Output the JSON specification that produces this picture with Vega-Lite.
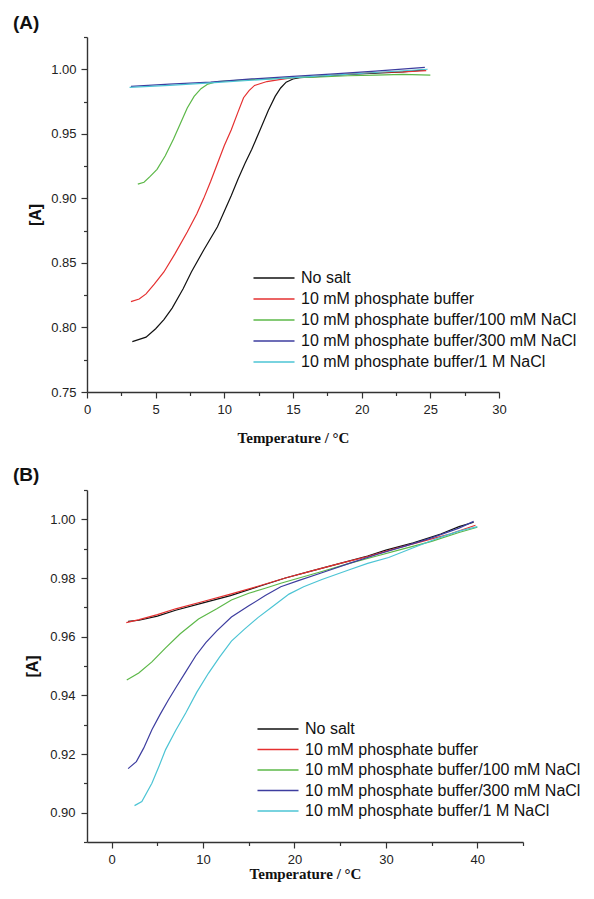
{
  "$schema": "https://vega.github.io/schema/vega-lite/v6.json",
  "padding": {"left": 13, "top": 14, "right": 5, "bottom": 5},
  "background": "white",
  "spacing": 21,
  "config": {
    "view": {"stroke": null},
    "axis": {
      "domainColor": "#333333", "domainWidth": 1.4, "tickColor": "#333333", "tickWidth": 1.2,
      "labelFont": "Liberation Sans", "labelFontSize": 13, "labelColor": "#222222",
      "grid": false, "labelOverlap": false, "labelFlush": false
    },
    "legend": {
      "orient": "none", "title": null, "padding": 0, "rowPadding": 5,
      "labelFont": "Liberation Sans", "labelFontSize": 16, "labelColor": "#111111", "labelLimit": 500,
      "symbolType": "M-3,0H3", "symbolSize": 187, "symbolStrokeWidth": 1.3, "labelOffset": 19
    }
  },
  "datasets": {
    "A": [
      {"s": "No salt", "t": 3.3, "a": 0.789}, {"s": "No salt", "t": 4.3, "a": 0.7925}, {"s": "No salt", "t": 5.0, "a": 0.799}, {"s": "No salt", "t": 5.6, "a": 0.806}, {"s": "No salt", "t": 6.2, "a": 0.815}, {"s": "No salt", "t": 7.0, "a": 0.830}, {"s": "No salt", "t": 7.6, "a": 0.843}, {"s": "No salt", "t": 8.5, "a": 0.860}, {"s": "No salt", "t": 9.5, "a": 0.878}, {"s": "No salt", "t": 10.0, "a": 0.890}, {"s": "No salt", "t": 10.5, "a": 0.902}, {"s": "No salt", "t": 11.0, "a": 0.915}, {"s": "No salt", "t": 11.5, "a": 0.927}, {"s": "No salt", "t": 12.0, "a": 0.938}, {"s": "No salt", "t": 12.6, "a": 0.953}, {"s": "No salt", "t": 13.2, "a": 0.968}, {"s": "No salt", "t": 13.7, "a": 0.979}, {"s": "No salt", "t": 14.1, "a": 0.9855}, {"s": "No salt", "t": 14.5, "a": 0.990}, {"s": "No salt", "t": 15.0, "a": 0.9925}, {"s": "No salt", "t": 15.5, "a": 0.9935}, {"s": "No salt", "t": 17.0, "a": 0.9945}, {"s": "No salt", "t": 19.0, "a": 0.996}, {"s": "No salt", "t": 21.0, "a": 0.997}, {"s": "No salt", "t": 23.0, "a": 0.998}, {"s": "No salt", "t": 24.6, "a": 0.9995},
      {"s": "10 mM phosphate buffer", "t": 3.2, "a": 0.820}, {"s": "10 mM phosphate buffer", "t": 3.8, "a": 0.822}, {"s": "10 mM phosphate buffer", "t": 4.3, "a": 0.826}, {"s": "10 mM phosphate buffer", "t": 4.9, "a": 0.8335}, {"s": "10 mM phosphate buffer", "t": 5.6, "a": 0.843}, {"s": "10 mM phosphate buffer", "t": 6.4, "a": 0.857}, {"s": "10 mM phosphate buffer", "t": 7.3, "a": 0.874}, {"s": "10 mM phosphate buffer", "t": 8.0, "a": 0.888}, {"s": "10 mM phosphate buffer", "t": 8.5, "a": 0.900}, {"s": "10 mM phosphate buffer", "t": 9.0, "a": 0.913}, {"s": "10 mM phosphate buffer", "t": 9.5, "a": 0.927}, {"s": "10 mM phosphate buffer", "t": 10.0, "a": 0.941}, {"s": "10 mM phosphate buffer", "t": 10.5, "a": 0.953}, {"s": "10 mM phosphate buffer", "t": 11.0, "a": 0.967}, {"s": "10 mM phosphate buffer", "t": 11.4, "a": 0.978}, {"s": "10 mM phosphate buffer", "t": 11.8, "a": 0.9835}, {"s": "10 mM phosphate buffer", "t": 12.2, "a": 0.9875}, {"s": "10 mM phosphate buffer", "t": 13.1, "a": 0.9905}, {"s": "10 mM phosphate buffer", "t": 14.0, "a": 0.992}, {"s": "10 mM phosphate buffer", "t": 15.0, "a": 0.9935}, {"s": "10 mM phosphate buffer", "t": 17.0, "a": 0.995}, {"s": "10 mM phosphate buffer", "t": 19.0, "a": 0.9965}, {"s": "10 mM phosphate buffer", "t": 21.0, "a": 0.9975}, {"s": "10 mM phosphate buffer", "t": 23.0, "a": 0.998}, {"s": "10 mM phosphate buffer", "t": 24.7, "a": 0.999},
      {"s": "10 mM phosphate buffer/100 mM NaCl", "t": 3.7, "a": 0.911}, {"s": "10 mM phosphate buffer/100 mM NaCl", "t": 4.15, "a": 0.9125}, {"s": "10 mM phosphate buffer/100 mM NaCl", "t": 4.6, "a": 0.917}, {"s": "10 mM phosphate buffer/100 mM NaCl", "t": 5.1, "a": 0.9225}, {"s": "10 mM phosphate buffer/100 mM NaCl", "t": 5.7, "a": 0.933}, {"s": "10 mM phosphate buffer/100 mM NaCl", "t": 6.3, "a": 0.946}, {"s": "10 mM phosphate buffer/100 mM NaCl", "t": 6.8, "a": 0.958}, {"s": "10 mM phosphate buffer/100 mM NaCl", "t": 7.3, "a": 0.970}, {"s": "10 mM phosphate buffer/100 mM NaCl", "t": 7.8, "a": 0.979}, {"s": "10 mM phosphate buffer/100 mM NaCl", "t": 8.3, "a": 0.985}, {"s": "10 mM phosphate buffer/100 mM NaCl", "t": 8.8, "a": 0.9885}, {"s": "10 mM phosphate buffer/100 mM NaCl", "t": 9.5, "a": 0.9905}, {"s": "10 mM phosphate buffer/100 mM NaCl", "t": 11.0, "a": 0.9915}, {"s": "10 mM phosphate buffer/100 mM NaCl", "t": 13.0, "a": 0.9925}, {"s": "10 mM phosphate buffer/100 mM NaCl", "t": 15.0, "a": 0.9935}, {"s": "10 mM phosphate buffer/100 mM NaCl", "t": 17.0, "a": 0.994}, {"s": "10 mM phosphate buffer/100 mM NaCl", "t": 19.0, "a": 0.995}, {"s": "10 mM phosphate buffer/100 mM NaCl", "t": 21.0, "a": 0.9955}, {"s": "10 mM phosphate buffer/100 mM NaCl", "t": 23.0, "a": 0.996}, {"s": "10 mM phosphate buffer/100 mM NaCl", "t": 25.0, "a": 0.9955},
      {"s": "10 mM phosphate buffer/300 mM NaCl", "t": 3.2, "a": 0.9868}, {"s": "10 mM phosphate buffer/300 mM NaCl", "t": 6.0, "a": 0.9885}, {"s": "10 mM phosphate buffer/300 mM NaCl", "t": 9.0, "a": 0.990}, {"s": "10 mM phosphate buffer/300 mM NaCl", "t": 12.0, "a": 0.9925}, {"s": "10 mM phosphate buffer/300 mM NaCl", "t": 15.0, "a": 0.9945}, {"s": "10 mM phosphate buffer/300 mM NaCl", "t": 18.0, "a": 0.9965}, {"s": "10 mM phosphate buffer/300 mM NaCl", "t": 21.0, "a": 0.9985}, {"s": "10 mM phosphate buffer/300 mM NaCl", "t": 24.6, "a": 1.0015},
      {"s": "10 mM phosphate buffer/1 M NaCl", "t": 3.1, "a": 0.986}, {"s": "10 mM phosphate buffer/1 M NaCl", "t": 6.0, "a": 0.9875}, {"s": "10 mM phosphate buffer/1 M NaCl", "t": 9.0, "a": 0.9895}, {"s": "10 mM phosphate buffer/1 M NaCl", "t": 12.0, "a": 0.9915}, {"s": "10 mM phosphate buffer/1 M NaCl", "t": 15.0, "a": 0.9935}, {"s": "10 mM phosphate buffer/1 M NaCl", "t": 18.0, "a": 0.9955}, {"s": "10 mM phosphate buffer/1 M NaCl", "t": 21.0, "a": 0.9975}, {"s": "10 mM phosphate buffer/1 M NaCl", "t": 24.8, "a": 1.0}
    ],
    "B": [
      {"s": "No salt", "t": 1.8, "a": 0.9652}, {"s": "No salt", "t": 3.0, "a": 0.9656}, {"s": "No salt", "t": 5.0, "a": 0.967}, {"s": "No salt", "t": 7.0, "a": 0.969}, {"s": "No salt", "t": 10.0, "a": 0.9715}, {"s": "No salt", "t": 13.0, "a": 0.974}, {"s": "No salt", "t": 16.0, "a": 0.977}, {"s": "No salt", "t": 19.0, "a": 0.980}, {"s": "No salt", "t": 22.0, "a": 0.9825}, {"s": "No salt", "t": 25.0, "a": 0.985}, {"s": "No salt", "t": 28.0, "a": 0.9875}, {"s": "No salt", "t": 30.0, "a": 0.9895}, {"s": "No salt", "t": 33.0, "a": 0.992}, {"s": "No salt", "t": 36.0, "a": 0.995}, {"s": "No salt", "t": 38.0, "a": 0.9975}, {"s": "No salt", "t": 39.6, "a": 0.999},
      {"s": "10 mM phosphate buffer", "t": 1.6, "a": 0.9648}, {"s": "10 mM phosphate buffer", "t": 3.0, "a": 0.9658}, {"s": "10 mM phosphate buffer", "t": 5.0, "a": 0.9675}, {"s": "10 mM phosphate buffer", "t": 7.0, "a": 0.9695}, {"s": "10 mM phosphate buffer", "t": 10.0, "a": 0.972}, {"s": "10 mM phosphate buffer", "t": 13.0, "a": 0.9745}, {"s": "10 mM phosphate buffer", "t": 16.0, "a": 0.9772}, {"s": "10 mM phosphate buffer", "t": 19.0, "a": 0.980}, {"s": "10 mM phosphate buffer", "t": 22.0, "a": 0.9825}, {"s": "10 mM phosphate buffer", "t": 25.0, "a": 0.985}, {"s": "10 mM phosphate buffer", "t": 28.0, "a": 0.9873}, {"s": "10 mM phosphate buffer", "t": 31.0, "a": 0.990}, {"s": "10 mM phosphate buffer", "t": 34.0, "a": 0.9925}, {"s": "10 mM phosphate buffer", "t": 37.0, "a": 0.995}, {"s": "10 mM phosphate buffer", "t": 39.8, "a": 0.998},
      {"s": "10 mM phosphate buffer/100 mM NaCl", "t": 1.65, "a": 0.9452}, {"s": "10 mM phosphate buffer/100 mM NaCl", "t": 2.96, "a": 0.9476}, {"s": "10 mM phosphate buffer/100 mM NaCl", "t": 4.4, "a": 0.9514}, {"s": "10 mM phosphate buffer/100 mM NaCl", "t": 5.9, "a": 0.9562}, {"s": "10 mM phosphate buffer/100 mM NaCl", "t": 7.5, "a": 0.961}, {"s": "10 mM phosphate buffer/100 mM NaCl", "t": 9.5, "a": 0.966}, {"s": "10 mM phosphate buffer/100 mM NaCl", "t": 11.5, "a": 0.9695}, {"s": "10 mM phosphate buffer/100 mM NaCl", "t": 13.1, "a": 0.9725}, {"s": "10 mM phosphate buffer/100 mM NaCl", "t": 15.0, "a": 0.9748}, {"s": "10 mM phosphate buffer/100 mM NaCl", "t": 16.8, "a": 0.9765}, {"s": "10 mM phosphate buffer/100 mM NaCl", "t": 18.5, "a": 0.9782}, {"s": "10 mM phosphate buffer/100 mM NaCl", "t": 20.5, "a": 0.980}, {"s": "10 mM phosphate buffer/100 mM NaCl", "t": 23.0, "a": 0.9822}, {"s": "10 mM phosphate buffer/100 mM NaCl", "t": 26.0, "a": 0.985}, {"s": "10 mM phosphate buffer/100 mM NaCl", "t": 29.0, "a": 0.9875}, {"s": "10 mM phosphate buffer/100 mM NaCl", "t": 32.0, "a": 0.990}, {"s": "10 mM phosphate buffer/100 mM NaCl", "t": 35.0, "a": 0.9925}, {"s": "10 mM phosphate buffer/100 mM NaCl", "t": 38.0, "a": 0.9955}, {"s": "10 mM phosphate buffer/100 mM NaCl", "t": 40.0, "a": 0.9973},
      {"s": "10 mM phosphate buffer/300 mM NaCl", "t": 1.8, "a": 0.915}, {"s": "10 mM phosphate buffer/300 mM NaCl", "t": 2.7, "a": 0.9174}, {"s": "10 mM phosphate buffer/300 mM NaCl", "t": 3.5, "a": 0.922}, {"s": "10 mM phosphate buffer/300 mM NaCl", "t": 4.4, "a": 0.9283}, {"s": "10 mM phosphate buffer/300 mM NaCl", "t": 5.3, "a": 0.9335}, {"s": "10 mM phosphate buffer/300 mM NaCl", "t": 6.2, "a": 0.9384}, {"s": "10 mM phosphate buffer/300 mM NaCl", "t": 7.1, "a": 0.943}, {"s": "10 mM phosphate buffer/300 mM NaCl", "t": 8.1, "a": 0.948}, {"s": "10 mM phosphate buffer/300 mM NaCl", "t": 9.2, "a": 0.9535}, {"s": "10 mM phosphate buffer/300 mM NaCl", "t": 10.3, "a": 0.958}, {"s": "10 mM phosphate buffer/300 mM NaCl", "t": 11.5, "a": 0.962}, {"s": "10 mM phosphate buffer/300 mM NaCl", "t": 13.1, "a": 0.9667}, {"s": "10 mM phosphate buffer/300 mM NaCl", "t": 15.0, "a": 0.9705}, {"s": "10 mM phosphate buffer/300 mM NaCl", "t": 16.8, "a": 0.974}, {"s": "10 mM phosphate buffer/300 mM NaCl", "t": 18.5, "a": 0.977}, {"s": "10 mM phosphate buffer/300 mM NaCl", "t": 20.5, "a": 0.9792}, {"s": "10 mM phosphate buffer/300 mM NaCl", "t": 23.0, "a": 0.9818}, {"s": "10 mM phosphate buffer/300 mM NaCl", "t": 26.0, "a": 0.985}, {"s": "10 mM phosphate buffer/300 mM NaCl", "t": 29.0, "a": 0.988}, {"s": "10 mM phosphate buffer/300 mM NaCl", "t": 32.0, "a": 0.9908}, {"s": "10 mM phosphate buffer/300 mM NaCl", "t": 35.0, "a": 0.9937}, {"s": "10 mM phosphate buffer/300 mM NaCl", "t": 38.0, "a": 0.997}, {"s": "10 mM phosphate buffer/300 mM NaCl", "t": 39.6, "a": 0.9993},
      {"s": "10 mM phosphate buffer/1 M NaCl", "t": 2.5, "a": 0.9024}, {"s": "10 mM phosphate buffer/1 M NaCl", "t": 3.3, "a": 0.9038}, {"s": "10 mM phosphate buffer/1 M NaCl", "t": 4.4, "a": 0.910}, {"s": "10 mM phosphate buffer/1 M NaCl", "t": 5.2, "a": 0.916}, {"s": "10 mM phosphate buffer/1 M NaCl", "t": 5.9, "a": 0.9215}, {"s": "10 mM phosphate buffer/1 M NaCl", "t": 7.0, "a": 0.928}, {"s": "10 mM phosphate buffer/1 M NaCl", "t": 8.1, "a": 0.934}, {"s": "10 mM phosphate buffer/1 M NaCl", "t": 9.3, "a": 0.941}, {"s": "10 mM phosphate buffer/1 M NaCl", "t": 10.6, "a": 0.9476}, {"s": "10 mM phosphate buffer/1 M NaCl", "t": 11.8, "a": 0.953}, {"s": "10 mM phosphate buffer/1 M NaCl", "t": 13.1, "a": 0.9585}, {"s": "10 mM phosphate buffer/1 M NaCl", "t": 14.5, "a": 0.9625}, {"s": "10 mM phosphate buffer/1 M NaCl", "t": 16.0, "a": 0.9665}, {"s": "10 mM phosphate buffer/1 M NaCl", "t": 17.5, "a": 0.970}, {"s": "10 mM phosphate buffer/1 M NaCl", "t": 19.4, "a": 0.9745}, {"s": "10 mM phosphate buffer/1 M NaCl", "t": 21.0, "a": 0.977}, {"s": "10 mM phosphate buffer/1 M NaCl", "t": 23.0, "a": 0.9795}, {"s": "10 mM phosphate buffer/1 M NaCl", "t": 26.0, "a": 0.9828}, {"s": "10 mM phosphate buffer/1 M NaCl", "t": 28.0, "a": 0.985}, {"s": "10 mM phosphate buffer/1 M NaCl", "t": 30.3, "a": 0.987}, {"s": "10 mM phosphate buffer/1 M NaCl", "t": 33.0, "a": 0.9903}, {"s": "10 mM phosphate buffer/1 M NaCl", "t": 35.8, "a": 0.9937}, {"s": "10 mM phosphate buffer/1 M NaCl", "t": 38.0, "a": 0.996}, {"s": "10 mM phosphate buffer/1 M NaCl", "t": 40.0, "a": 0.9975}
    ]
  },
  "resolve": {"scale": {"color": "independent", "x": "independent", "y": "independent"}},
  "vconcat": [
    {
      "title": {"text": "(A)", "anchor": "start", "frame": "group", "dx": -74, "offset": -17, "baseline": "alphabetic", "font": "Liberation Sans", "fontSize": 19, "fontWeight": "bold", "color": "#111111"},
      "width": 412, "height": 355,
      "data": {"name": "A"},
      "mark": {"type": "line", "strokeWidth": 1.2, "clip": true},
      "encoding": {
        "x": {"field": "t", "type": "quantitative", "scale": {"domain": [0, 30], "nice": false, "zero": false},
          "axis": {"title": "Temperature / °C", "titleFont": "Liberation Serif", "titleFontSize": 15, "titleFontWeight": "bold", "titleColor": "#111111", "titlePadding": 14,
            "values": [0, 2.5, 5, 7.5, 10, 12.5, 15, 17.5, 20, 22.5, 25, 27.5, 30],
            "labelExpr": "datum.value % 5 === 0 ? datum.label : ''",
            "tickSize": {"condition": {"test": "datum.value % 5 === 0", "value": 6}, "value": 3.5},
            "labelPadding": 5}},
        "y": {"field": "a", "type": "quantitative", "scale": {"domain": [0.75, 1.025], "nice": false, "zero": false},
          "axis": {"title": "[A]", "titleFont": "Liberation Sans", "titleFontSize": 16, "titleFontWeight": "bold", "titleColor": "#111111", "titlePadding": 7,
            "values": [0.75, 0.775, 0.8, 0.825, 0.85, 0.875, 0.9, 0.925, 0.95, 0.975, 1.0, 1.025],
            "format": ".2f",
            "labelExpr": "abs(datum.value*20 - round(datum.value*20)) < 0.001 ? datum.label : ''",
            "tickSize": {"condition": {"test": "abs(datum.value*20 - round(datum.value*20)) < 0.001", "value": 6}, "value": 3.5},
            "labelPadding": 5}},
        "color": {"field": "s", "type": "nominal",
          "scale": {"domain": ["No salt", "10 mM phosphate buffer", "10 mM phosphate buffer/100 mM NaCl", "10 mM phosphate buffer/300 mM NaCl", "10 mM phosphate buffer/1 M NaCl"],
            "range": ["#111111", "#e53030", "#5cb848", "#3d3d9f", "#4cc4d4"]},
          "legend": {"legendX": 179, "legendY": 233}}
      }
    },
    {
      "title": {"text": "(B)", "anchor": "start", "frame": "group", "dx": -74, "offset": -16, "baseline": "alphabetic", "font": "Liberation Sans", "fontSize": 19, "fontWeight": "bold", "color": "#111111"},
      "width": 436, "height": 352,
      "data": {"name": "B"},
      "mark": {"type": "line", "strokeWidth": 1.2, "clip": true},
      "encoding": {
        "x": {"field": "t", "type": "quantitative", "scale": {"domain": [-2.7, 45], "nice": false, "zero": false},
          "axis": {"title": "Temperature / °C", "titleFont": "Liberation Serif", "titleFontSize": 15, "titleFontWeight": "bold", "titleColor": "#111111", "titlePadding": 0,
            "values": [0, 5, 10, 15, 20, 25, 30, 35, 40, 45],
            "labelExpr": "datum.value % 10 === 0 ? datum.label : ''",
            "tickSize": {"condition": {"test": "datum.value % 10 === 0", "value": 6}, "value": 3.5},
            "labelPadding": 5}},
        "y": {"field": "a", "type": "quantitative", "scale": {"domain": [0.89, 1.01], "nice": false, "zero": false},
          "axis": {"title": "[A]", "titleFont": "Liberation Sans", "titleFontSize": 16, "titleFontWeight": "bold", "titleColor": "#111111", "titlePadding": 9,
            "values": [0.89, 0.9, 0.91, 0.92, 0.93, 0.94, 0.95, 0.96, 0.97, 0.98, 0.99, 1.0, 1.01],
            "format": ".2f",
            "labelExpr": "abs(datum.value*50 - round(datum.value*50)) < 0.001 ? datum.label : ''",
            "tickSize": {"condition": {"test": "abs(datum.value*50 - round(datum.value*50)) < 0.001", "value": 6}, "value": 3.5},
            "labelPadding": 6}},
        "color": {"field": "s", "type": "nominal",
          "scale": {"domain": ["No salt", "10 mM phosphate buffer", "10 mM phosphate buffer/100 mM NaCl", "10 mM phosphate buffer/300 mM NaCl", "10 mM phosphate buffer/1 M NaCl"],
            "range": ["#111111", "#e53030", "#5cb848", "#3d3d9f", "#4cc4d4"]},
          "legend": {"legendX": 183, "legendY": 231, "rowPadding": 4.5}}
      }
    }
  ]
}
